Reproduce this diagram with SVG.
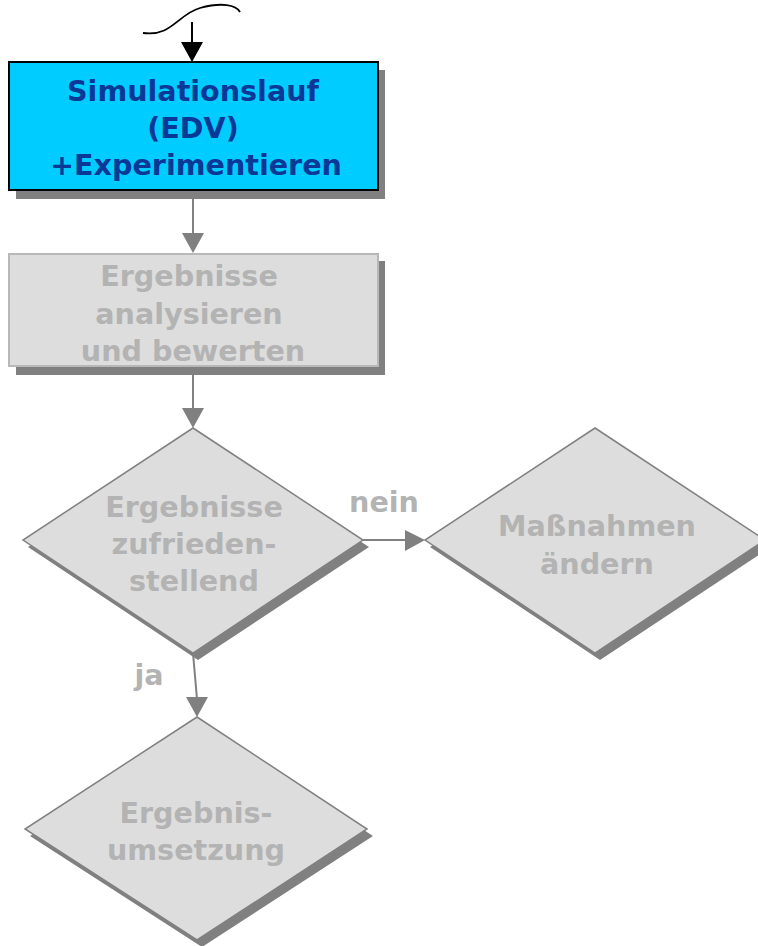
<svg xmlns="http://www.w3.org/2000/svg" width="758" height="946" viewBox="0 0 758 946">
<style>
.shadow{fill:#808080;stroke:none}
.gfill{fill:#dddddd;stroke:#808080;stroke-width:1.5}
.gbox{fill:#dddddd;stroke:#b8b8b8;stroke-width:2}
.t{font-family:"DejaVu Sans",Verdana,sans-serif;font-weight:bold;font-size:28.6px;text-anchor:middle}
.gt{fill:#b3b3b3}
.bt{fill:#0a3896}
.conn{stroke:#808080;stroke-width:2;fill:none}
.head{fill:#808080;stroke:none}
</style>
<rect width="758" height="946" fill="#ffffff"/>
<g id="connectors">
  <path d="M143,33 C172,37 178,14 200,8 C222,2 236,5 240,12" fill="none" stroke="#000" stroke-width="1.8"/>
  <line x1="192" y1="22" x2="192" y2="44" stroke="#000" stroke-width="2"/>
  <polygon points="181,42 203,42 192,62" fill="#000"/>
  <line class="conn" x1="193" y1="192" x2="193" y2="235"/>
  <polygon class="head" points="182,233 204,233 193,253"/>
  <line class="conn" x1="193" y1="366" x2="193" y2="410"/>
  <polygon class="head" points="182,408 204,408 193,428"/>
  <line class="conn" x1="363" y1="540" x2="407" y2="540"/>
  <polygon class="head" points="405,530 405,551 425,540"/>
  <line class="conn" x1="193" y1="653" x2="197" y2="699"/>
  <polygon class="head" points="186,697 208,697 197,717"/>
  <text class="t gt" x="384" y="512">nein</text>
  <text class="t gt" x="149" y="685">ja</text>
</g>
<g id="simulationslauf">
  <rect class="shadow" x="16" y="70" width="369" height="129"/>
  <rect x="9" y="62" width="369" height="128" fill="#00ccff" stroke="#000" stroke-width="2"/>
  <text class="t bt" x="193" y="101">Simulationslauf</text>
  <text class="t bt" x="193" y="138">(EDV)</text>
  <text class="t bt" x="196" y="175">+Experimentieren</text>
</g>
<g id="analysieren">
  <rect class="shadow" x="16" y="261" width="369" height="114"/>
  <rect class="gbox" x="9" y="254" width="369" height="112"/>
  <text class="t gt" x="189" y="286">Ergebnisse</text>
  <text class="t gt" x="189" y="323.5">analysieren</text>
  <text class="t gt" x="193" y="361">und bewerten</text>
</g>
<g id="zufrieden">
  <polygon class="shadow" points="198,435 369,547 198,660 28,547"/>
  <polygon class="gfill" points="193,428 363,540 193,653 23,540"/>
  <text class="t gt" x="194" y="517">Ergebnisse</text>
  <text class="t gt" x="194" y="554">zufrieden-</text>
  <text class="t gt" x="194" y="591">stellend</text>
</g>
<g id="massnahmen">
  <polygon class="shadow" points="600,435 771,547 600,660 430,547"/>
  <polygon class="gfill" points="595,428 765,540 595,653 425,540"/>
  <text class="t gt" x="597" y="536">Maßnahmen</text>
  <text class="t gt" x="597" y="574">ändern</text>
</g>
<g id="umsetzung">
  <polygon class="shadow" points="202,724 373,836 202,947 30,836"/>
  <polygon class="gfill" points="197,717 367,829 197,940 25,829"/>
  <text class="t gt" x="196" y="823">Ergebnis-</text>
  <text class="t gt" x="196" y="860">umsetzung</text>
</g>
</svg>
